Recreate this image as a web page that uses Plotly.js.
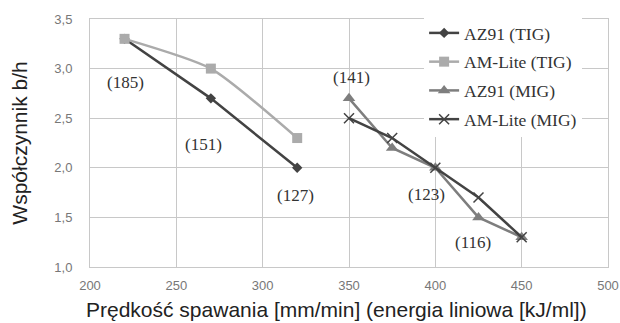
<!DOCTYPE html>
<html><head><meta charset="utf-8">
<script src="https://cdn.plot.ly/plotly-3.0.1.min.js"></script>
<style>html,body{margin:0;padding:0;background:#fff;}#c{width:620px;height:323px;}</style>
</head><body><div id="c"></div>
<script>
const seriesNames = ["AZ91 (TIG)", "AM-Lite (TIG)", "AZ91 (MIG)", "AM-Lite (MIG)"];
const tigX = [220, 270, 320];
const az91Tig = [3.3, 2.7, 2.0];
const amLiteTig = [3.3, 3.0, 2.3];
const migX = [350, 375, 400, 425, 450];
const az91Mig = [2.7, 2.2, 2.0, 1.5, 1.3];
const amLiteMig = [2.5, 2.3, 2.0, 1.7, 1.3];
const energyLabels = ["(185)", "(151)", "(127)", "(141)", "(123)", "(116)"];
const energyLabelX = [220.3, 266, 318.8, 351.2, 394.7, 421.9];
const energyLabelY = [2.855, 2.23, 1.716, 2.915, 1.726, 1.252];
const xTitle = "Prędkość spawania [mm/min] (energia liniowa [kJ/ml])";
const yTitle = "Współczynnik b/h";

const traces = [
  {x: tigX, y: az91Tig, name: seriesNames[0], legendgroup: "a", mode: "lines+markers",
   line: {color: "#434343", width: 2.5}, marker: {symbol: "diamond", size: 8, color: "#434343"}},
  {x: tigX, y: amLiteTig, name: seriesNames[1], legendgroup: "b", mode: "lines+markers",
   line: {color: "#ababab", width: 2.5, shape: "spline", smoothing: 0.6}, marker: {symbol: "square", size: 10, color: "#ababab"}},
  {x: migX, y: az91Mig, name: seriesNames[2], legendgroup: "c", mode: "lines+markers",
   line: {color: "#7e7e7e", width: 2.5}, marker: {symbol: "triangle-up", size: 11, color: "#7e7e7e"}},
  {x: migX, y: amLiteMig, name: seriesNames[3], legendgroup: "d", mode: "lines+markers",
   line: {color: "#434343", width: 2.5}, marker: {symbol: "x-thin-open", size: 10, color: "#434343", line: {width: 1.5, color: "#434343"}}}
];

const annotations = energyLabels.map((t, i) => ({
  x: energyLabelX[i], y: energyLabelY[i], text: t, showarrow: false,
  font: {family: "Liberation Serif", size: 17, color: "#333"}
}));
annotations.push({
  xref: "paper", yref: "paper", x: 0.475, y: -0.17, xanchor: "center", yanchor: "middle",
  text: xTitle, showarrow: false,
  font: {family: "Liberation Sans", size: 21, color: "#222"}
});

const layout = {
  width: 620, height: 323,
  margin: {l: 90, r: 12, t: 19, b: 56},
  paper_bgcolor: "#fff", plot_bgcolor: "#fff",
  separators: ", ",
  showlegend: true,
  legend: {x: 0.645, y: 1.016, xanchor: "left", yanchor: "top", bgcolor: "#fff",
           itemwidth: 30, traceorder: "grouped", tracegroupgap: 3,
           font: {family: "Liberation Serif", size: 17.5, color: "#333"}},
  xaxis: {range: [200, 500], dtick: 50, tick0: 200, showgrid: true, gridcolor: "#c8c8c8", gridwidth: 1,
          showline: true, linecolor: "#c8c8c8", mirror: true, zeroline: false, ticks: "",
          ticklabelstandoff: 6,
          tickfont: {family: "Liberation Sans", size: 13, color: "#777"}},
  yaxis: {range: [1.0, 3.5], dtick: 0.5, tick0: 1, tickformat: ".1f", showgrid: true, gridcolor: "#c8c8c8",
          showline: true, linecolor: "#c8c8c8", mirror: true, zeroline: false, ticks: "",
          ticklabelstandoff: 14,
          tickfont: {family: "Liberation Sans", size: 13, color: "#777"},
          title: {text: yTitle, standoff: 20,
                  font: {family: "Liberation Sans", size: 21, color: "#222"}}},
  annotations: annotations
};
Plotly.newPlot("c", traces, layout, {displayModeBar: false, staticPlot: true});
</script></body></html>
